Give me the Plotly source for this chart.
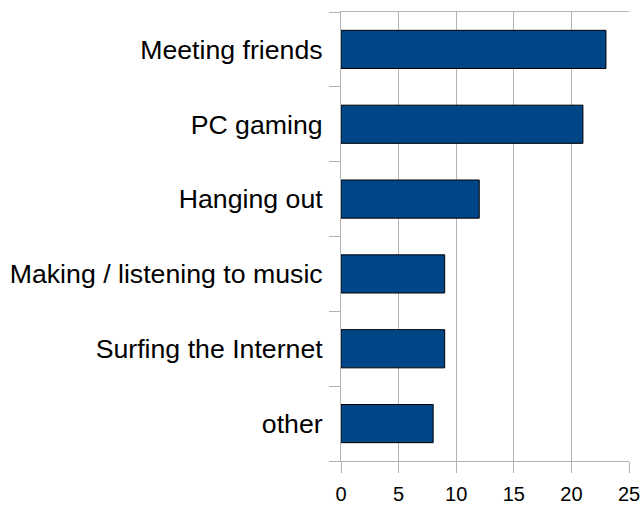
import plotly.graph_objects as go

# categories from top to bottom, with their counts
activities = ['Meeting friends', 'PC gaming', 'Hanging out',
              'Making / listening to music', 'Surfing the Internet', 'other']
counts = [23, 21, 12, 9, 9, 8]
x_ticks = [0, 5, 10, 15, 20, 25]

grey = '#b3b3b3'

fig = go.Figure(go.Bar(
    x=counts,
    y=activities,
    orientation='h',
    marker=dict(color='#004586', line=dict(color='black', width=1)),
    width=0.51,
))

fig.update_layout(
    width=644, height=505,
    margin=dict(l=341, r=15, t=12, b=44, autoexpand=False),
    paper_bgcolor='white', plot_bgcolor='white',
    font=dict(family='Liberation Sans, Arial, sans-serif', color='black'),
    showlegend=False,
)

fig.update_xaxes(
    range=[0, 25], tickvals=x_ticks,
    showgrid=True, gridcolor=grey, gridwidth=1,
    showline=True, linecolor=grey, linewidth=1, mirror=True,
    ticks='outside', ticklen=11, tickcolor=grey,
    tickfont=dict(size=20), ticklabelstandoff=4,
    zeroline=False, automargin=False,
)

fig.update_yaxes(
    categoryorder='array', categoryarray=activities[::-1],
    showgrid=False,
    showline=True, linecolor=grey, linewidth=1,
    ticks='outside', ticklen=11, tickcolor=grey, tickson='boundaries',
    tickfont=dict(size=26.7), ticklabelstandoff=12,
    automargin=False,
)

# drop the default 8px body margin so the figure fills the window
fig.write_html("out.html", config={'displayModeBar': False},
               post_script="document.body.style.margin='0';")
